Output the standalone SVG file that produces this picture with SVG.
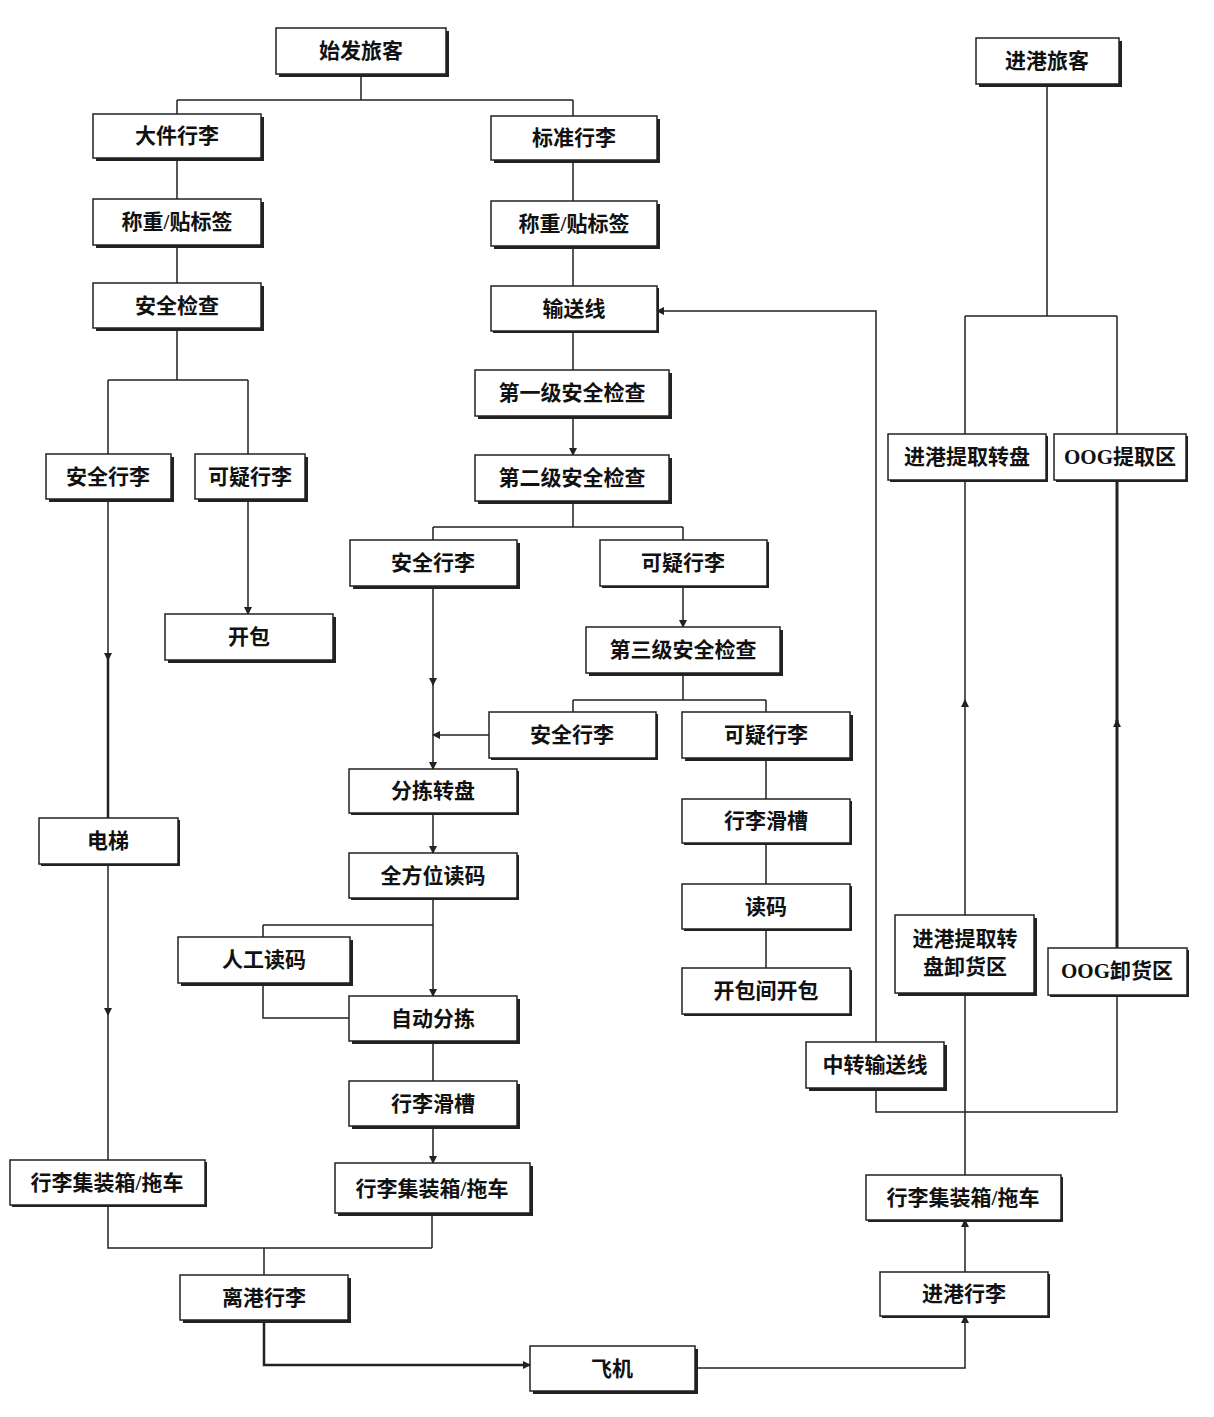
<svg xmlns="http://www.w3.org/2000/svg" width="1214" height="1417" viewBox="0 0 1214 1417">
<style>
.b rect.s{fill:#222}
.b rect.f{fill:#fff;stroke:#222;stroke-width:1.5}
.b text{font-family:"Liberation Serif","Noto Sans CJK SC",serif;font-size:21px;font-weight:bold;text-anchor:middle;fill:#111}
#c path{fill:none;stroke:#222;stroke-width:1.5}
</style>
<defs><marker id="a" markerWidth="8" markerHeight="8" refX="7" refY="4" orient="auto" markerUnits="userSpaceOnUse"><path d="M0,0L8,4L0,8z" fill="#222"/></marker></defs>
<rect width="1214" height="1417" fill="#fff"/>
<g id="c">
<path d="M361,74V100M177,100H573M177,100V114M573,100V116"/>
<path d="M177,158V199M177,245V283M573,160V201M573,246V286M573,331V370M573,416V455" marker-end="url(#a)"/>
<path d="M177,328V380M108,380H248M108,380V454M248,380V454"/>
<path d="M248,499V614" marker-end="url(#a)"/>
<path d="M108,499V660" marker-end="url(#a)"/><path d="M108,655V818" style="stroke-width:2.5"/>
<path d="M108,864V1015" marker-end="url(#a)"/><path d="M108,1012V1248H432M432,1213V1248M264,1248V1275"/>
<path d="M573,501V527M433,527H683M433,527V540M683,527V540"/>
<path d="M433,586V685" marker-end="url(#a)"/><path d="M433,680V769" marker-end="url(#a)"/>
<path d="M489,735H433" marker-end="url(#a)"/>
<path d="M683,586V627" marker-end="url(#a)"/>
<path d="M683,673V700M573,700H766M573,700V712M766,700V712"/>
<path d="M766,758V799M766,843V884M766,929V968M433,813V853" marker-end="url(#a)"/>
<path d="M433,898V996" marker-end="url(#a)"/>
<path d="M263,925H433M263,925V937M263,983V1018H349"/>
<path d="M433,1041V1081M433,1126V1163" marker-end="url(#a)"/>
<path d="M264,1320V1365H530" marker-end="url(#a)" style="stroke-width:2.5"/>
<path d="M695,1368H965V1316" marker-end="url(#a)"/>
<path d="M965,1272V1220" marker-end="url(#a)"/>
<path d="M965,1175V993M876,1088V1112H1117V995"/>
<path d="M876,1042V311H657" marker-end="url(#a)"/>
<path d="M965,915V700" marker-end="url(#a)"/><path d="M965,705V480"/>
<path d="M1117,948V720" marker-end="url(#a)" style="stroke-width:3"/><path d="M1117,725V480" style="stroke-width:3"/>
<path d="M1047,84V316M965,316H1117M965,316V434M1117,316V434"/>
</g>
<g class="b" id="n1"><rect class="s" x="279" y="31" width="170" height="46"/><rect class="f" x="276" y="28" width="170" height="46"/><text x="361" y="58">始发旅客</text></g>
<g class="b" id="n2"><rect class="s" x="979" y="41" width="143" height="46"/><rect class="f" x="976" y="38" width="143" height="46"/><text x="1047" y="68">进港旅客</text></g>
<g class="b" id="n3"><rect class="s" x="96" y="117" width="168" height="44"/><rect class="f" x="93" y="114" width="168" height="44"/><text x="177" y="143">大件行李</text></g>
<g class="b" id="n4"><rect class="s" x="494" y="119" width="166" height="44"/><rect class="f" x="491" y="116" width="166" height="44"/><text x="574" y="145">标准行李</text></g>
<g class="b" id="n5"><rect class="s" x="96" y="202" width="168" height="46"/><rect class="f" x="93" y="199" width="168" height="46"/><text x="177" y="229">称重/贴标签</text></g>
<g class="b" id="n6"><rect class="s" x="494" y="204" width="166" height="45"/><rect class="f" x="491" y="201" width="166" height="45"/><text x="574" y="231">称重/贴标签</text></g>
<g class="b" id="n7"><rect class="s" x="96" y="286" width="168" height="45"/><rect class="f" x="93" y="283" width="168" height="45"/><text x="177" y="313">安全检查</text></g>
<g class="b" id="n8"><rect class="s" x="493" y="288" width="166" height="45"/><rect class="f" x="491" y="286" width="166" height="45"/><text x="574" y="316">输送线</text></g>
<g class="b" id="n9"><rect class="s" x="478" y="373" width="194" height="46"/><rect class="f" x="475" y="370" width="194" height="46"/><text x="572" y="400">第一级安全检查</text></g>
<g class="b" id="n10"><rect class="s" x="478" y="458" width="194" height="46"/><rect class="f" x="475" y="455" width="194" height="46"/><text x="572" y="485">第二级安全检查</text></g>
<g class="b" id="n11"><rect class="s" x="49" y="457" width="125" height="45"/><rect class="f" x="46" y="454" width="125" height="45"/><text x="108" y="484">安全行李</text></g>
<g class="b" id="n12"><rect class="s" x="198" y="457" width="110" height="45"/><rect class="f" x="195" y="454" width="110" height="45"/><text x="250" y="484">可疑行李</text></g>
<g class="b" id="n13"><rect class="s" x="168" y="617" width="168" height="46"/><rect class="f" x="165" y="614" width="168" height="46"/><text x="249" y="644">开包</text></g>
<g class="b" id="n14"><rect class="s" x="353" y="543" width="167" height="46"/><rect class="f" x="350" y="540" width="167" height="46"/><text x="433" y="570">安全行李</text></g>
<g class="b" id="n15"><rect class="s" x="602" y="542" width="167" height="46"/><rect class="f" x="600" y="540" width="167" height="46"/><text x="683" y="570">可疑行李</text></g>
<g class="b" id="n16"><rect class="s" x="589" y="630" width="194" height="46"/><rect class="f" x="586" y="627" width="194" height="46"/><text x="683" y="657">第三级安全检查</text></g>
<g class="b" id="n17"><rect class="s" x="491" y="714" width="167" height="46"/><rect class="f" x="489" y="712" width="167" height="46"/><text x="572" y="742">安全行李</text></g>
<g class="b" id="n18"><rect class="s" x="685" y="715" width="168" height="46"/><rect class="f" x="682" y="712" width="168" height="46"/><text x="766" y="742">可疑行李</text></g>
<g class="b" id="n19"><rect class="s" x="351" y="771" width="168" height="44"/><rect class="f" x="349" y="769" width="168" height="44"/><text x="433" y="798">分拣转盘</text></g>
<g class="b" id="n20"><rect class="s" x="684" y="801" width="168" height="44"/><rect class="f" x="682" y="799" width="168" height="44"/><text x="766" y="828">行李滑槽</text></g>
<g class="b" id="n21"><rect class="s" x="351" y="855" width="168" height="45"/><rect class="f" x="349" y="853" width="168" height="45"/><text x="433" y="883">全方位读码</text></g>
<g class="b" id="n22"><rect class="s" x="684" y="886" width="168" height="45"/><rect class="f" x="682" y="884" width="168" height="45"/><text x="766" y="914">读码</text></g>
<g class="b" id="n23"><rect class="s" x="181" y="940" width="172" height="46"/><rect class="f" x="178" y="937" width="172" height="46"/><text x="264" y="967">人工读码</text></g>
<g class="b" id="n24"><rect class="s" x="684" y="970" width="168" height="46"/><rect class="f" x="682" y="968" width="168" height="46"/><text x="766" y="998">开包间开包</text></g>
<g class="b" id="n25"><rect class="s" x="352" y="999" width="168" height="45"/><rect class="f" x="349" y="996" width="168" height="45"/><text x="433" y="1026">自动分拣</text></g>
<g class="b" id="n26"><rect class="s" x="352" y="1084" width="168" height="45"/><rect class="f" x="349" y="1081" width="168" height="45"/><text x="433" y="1111">行李滑槽</text></g>
<g class="b" id="n27"><rect class="s" x="338" y="1166" width="195" height="50"/><rect class="f" x="335" y="1163" width="195" height="50"/><text x="432" y="1196">行李集装箱/拖车</text></g>
<g class="b" id="n28"><rect class="s" x="12" y="1162" width="195" height="45"/><rect class="f" x="10" y="1160" width="195" height="45"/><text x="107" y="1190">行李集装箱/拖车</text></g>
<g class="b" id="n29"><rect class="s" x="41" y="820" width="139" height="46"/><rect class="f" x="39" y="818" width="139" height="46"/><text x="108" y="848">电梯</text></g>
<g class="b" id="n30"><rect class="s" x="890" y="436" width="158" height="46"/><rect class="f" x="888" y="434" width="158" height="46"/><text x="967" y="464">进港提取转盘</text></g>
<g class="b" id="n31"><rect class="s" x="1056" y="436" width="132" height="46"/><rect class="f" x="1054" y="434" width="132" height="46"/><text x="1120" y="464">OOG提取区</text></g>
<g class="b" id="n32"><rect class="s" x="898" y="918" width="139" height="78"/><rect class="f" x="895" y="915" width="139" height="78"/><text x="965" y="946">进港提取转</text><text x="965" y="974">盘卸货区</text></g>
<g class="b" id="n33"><rect class="s" x="1050" y="950" width="139" height="47"/><rect class="f" x="1048" y="948" width="139" height="47"/><text x="1117" y="978">OOG卸货区</text></g>
<g class="b" id="n34"><rect class="s" x="809" y="1045" width="138" height="46"/><rect class="f" x="806" y="1042" width="138" height="46"/><text x="875" y="1072">中转输送线</text></g>
<g class="b" id="n35"><rect class="s" x="868" y="1177" width="195" height="45"/><rect class="f" x="866" y="1175" width="195" height="45"/><text x="963" y="1205">行李集装箱/拖车</text></g>
<g class="b" id="n36"><rect class="s" x="882" y="1274" width="168" height="44"/><rect class="f" x="880" y="1272" width="168" height="44"/><text x="964" y="1301">进港行李</text></g>
<g class="b" id="n37"><rect class="s" x="183" y="1278" width="168" height="45"/><rect class="f" x="180" y="1275" width="168" height="45"/><text x="264" y="1305">离港行李</text></g>
<g class="b" id="n38"><rect class="s" x="533" y="1349" width="165" height="45"/><rect class="f" x="530" y="1346" width="165" height="45"/><text x="612" y="1376">飞机</text></g>
</svg>
